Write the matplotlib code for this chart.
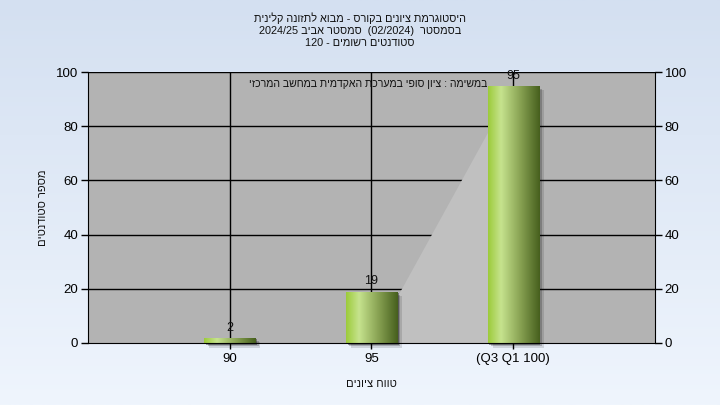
import re
import numpy as np
import matplotlib
matplotlib.use("Agg")
import matplotlib.pyplot as plt
from matplotlib.colors import LinearSegmentedColormap
from matplotlib.patches import Rectangle

plt.rcParams['font.family'] = ['Liberation Sans', 'DejaVu Sans']

# chart data (text kept in logical order)
title_lines = [
    "היסטוגרמת ציונים בקורס - מבוא לתזונה קלינית",
    "בסמסטר  (02/2024)  סמסטר אביב 2024/25",
    "סטודנטים רשומים - 120",
]
x_title = "טווח ציונים"
y_title = "מספר סטודנטים"
note = "במשימה : ציון סופי במערכת האקדמית במחשב המרכזי"
categories = ["90", "95", "(Q3 Q1 100)"]
counts = [2, 19, 95]
area_vals = [0, 0, 95]
y_ticks = [0, 20, 40, 60, 80, 100]


def visual(s):
    """Very small bidi: reverse an RTL string, keep numbers/latin runs LTR"""
    r = s[::-1].translate(str.maketrans("()", ")("))
    return re.sub(r"[0-9A-Za-z][0-9A-Za-z/.,]*[0-9A-Za-z]|[0-9A-Za-z]",
                  lambda m: m.group(0)[::-1], r)


fig = plt.figure(figsize=(7.2, 4.05), dpi=100)

# light blue gradient background
bg = fig.add_axes([0, 0, 1, 1], zorder=-1)
bg_cmap = LinearSegmentedColormap.from_list("bg", ["#d4e0f1", "#eff5fd"])
bg.imshow(np.linspace(0, 1, 256).reshape(-1, 1), cmap=bg_cmap,
          aspect="auto", extent=[0, 1, 0, 1])
bg.axis("off")

ax = fig.add_axes([0.1222, 0.1531, 0.7875, 0.669])
ax.set_facecolor("#b3b3b3")
x = np.arange(len(categories))
ax.set_xlim(-1, 3)
ax.set_ylim(0, 100)

# grid
for yv in y_ticks[1:]:
    ax.axhline(yv, color="black", lw=1, zorder=1)
for xv in x:
    ax.axvline(xv, color="black", lw=1, zorder=1)

# lighter area series behind bars
ax.fill_between(x, area_vals, 0, color="#c0c0c0", lw=0, zorder=2)

bar_cmap = LinearSegmentedColormap.from_list(
    "bar", [(0, "#9ccb3a"), (0.25, "#c6e38e"), (0.6, "#8ca656"), (1, "#465f1d")])
grad = np.linspace(0, 1, 256).reshape(1, -1)
width = 0.36

for xi, c in zip(x, counts):
    # soft shadow
    for k, a in [(3, 0.12), (2, 0.2), (1, 0.35)]:
        sh = Rectangle((xi - width / 2 + 0.012 * k, -0.6 * k), width, c,
                       color="black", alpha=a, lw=0, zorder=3, clip_on=False)
        ax.add_patch(sh)
    rect = Rectangle((xi - width / 2, 0), width, c, fc="none", lw=0, zorder=4)
    ax.add_patch(rect)
    im = ax.imshow(grad, cmap=bar_cmap, aspect="auto", zorder=4,
                   extent=[xi - width / 2, xi + width / 2, 0, c])
    im.set_clip_path(rect)
    ax.text(xi, c + 1.5, str(c), ha="center", va="bottom", fontsize=9,
            color="#111111", zorder=6)

ax.set_xlim(-1, 3)
ax.set_ylim(0, 100)

ax.set_xticks(x)
ax.set_xticklabels(categories, fontsize=9.5)
ax.set_yticks(y_ticks)
ax.tick_params(axis="y", labelsize=9.5, left=True, right=True,
               labelleft=True, labelright=True, length=5, width=1, pad=2)
ax.tick_params(axis="x", length=4, width=1, pad=3)
for s in ["left", "right", "bottom"]:
    ax.spines[s].set_color("black")
    ax.spines[s].set_zorder(5)
ax.spines["top"].set_visible(False)

ax.text(0.705, 0.955, visual(note), transform=ax.transAxes, ha="right",
        va="center", fontsize=7.6, color="#111111", zorder=6)

ax.set_xlabel(visual(x_title), fontsize=8, labelpad=10, color="#111111")
ax.set_ylabel(visual(y_title), fontsize=8, labelpad=6, color="#111111")

for i, yp in enumerate([18, 30.5, 43]):
    fig.text(0.5, 1 - yp / 405, visual(title_lines[i]), ha="center",
             va="center", fontsize=7.8, color="#111111")

fig.savefig("out.png", dpi=100)
plt.close(fig)
